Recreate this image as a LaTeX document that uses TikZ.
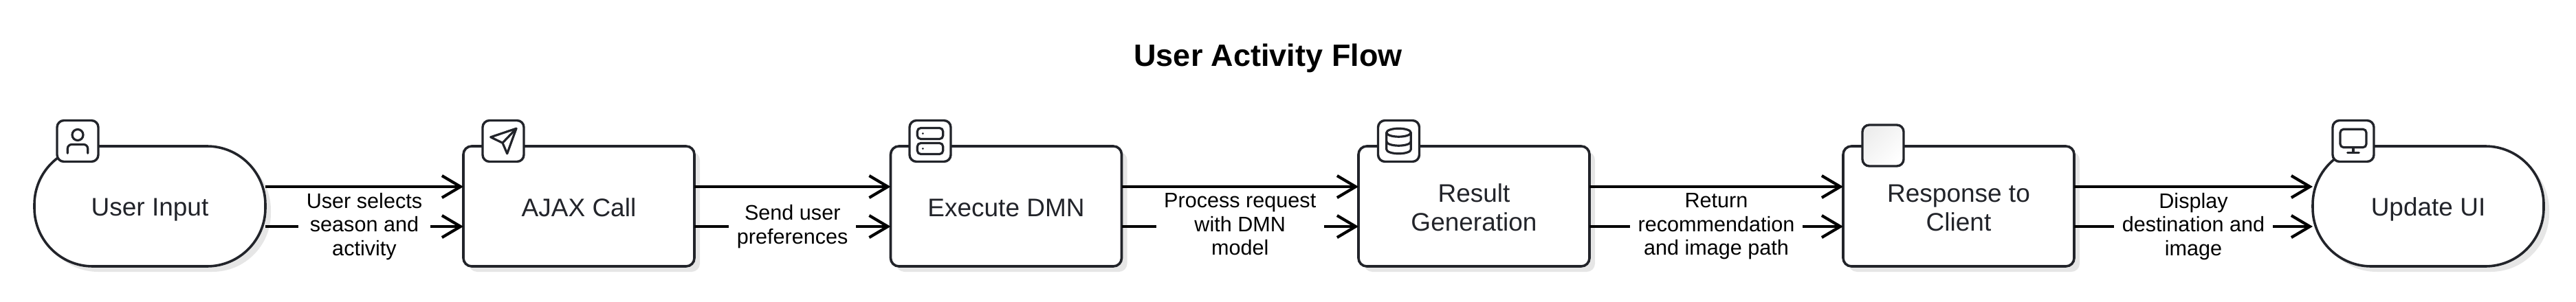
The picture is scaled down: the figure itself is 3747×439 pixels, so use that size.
\documentclass[tikz,border=0pt]{standalone}
\usepackage{fontspec}
\setmainfont{Liberation Sans}
\usetikzlibrary{arrows.meta,shadows}
\definecolor{inkcol}{HTML}{22242A}
\definecolor{shadowcol}{HTML}{E6E6E6}
\definecolor{iconshade}{HTML}{EDEDED}
\newcommand{\taskstrut}{\rule[-6pt]{0pt}{41pt}}
\newcommand{\labelstrut}{\rule[-6.5pt]{0pt}{28.5pt}}
\tikzset{
    task/.style={draw=inkcol,fill=white,line width=3.6pt,rounded corners=12pt,minimum width=336pt,minimum height=175pt,outer sep=0pt,align=center,text=inkcol,execute at end node=\taskstrut,font=\fontsize{37}{42}\selectfont,drop shadow={shadow xshift=8pt,shadow yshift=-8pt,fill=shadowcol,opacity=1}},
    terminal/.style={task,rounded corners=85pt},
    iconbox/.style={draw=inkcol,fill=white,line width=3.4pt,rounded corners=10pt,minimum width=60pt,minimum height=60pt,outer sep=0pt},
    glyph/.style={draw=inkcol,line width=3.2pt,line cap=round,line join=round},
    flow/.style={draw=black,line width=4.2pt,-{Straight Barb[length=27pt,width=32pt,line width=4.2pt]}},
    flowlabel/.style={fill=white,inner xsep=11.5pt,inner ysep=0pt,align=center,text=black,execute at end node=\labelstrut,font=\fontsize{30.6}{34.5}\selectfont}
}
\begin{document}
\begin{tikzpicture}[x=1pt,y=-1pt]
    \useasboundingbox (0,0) rectangle (3747,439);
    \node [anchor=base,font=\fontsize{45}{50}\selectfont\bfseries] (title) at (1844.5,96) {User Activity Flow};
    \node [terminal] (input) at (218,300.5) {User Input};
    \node [task] (ajax) at (842,300.5) {AJAX Call};
    \node [task] (dmn) at (1463.5,300.5) {Execute DMN};
    \node [task] (result) at (2144,300.5) {\taskstrut Result\\Generation};
    \node [task] (response) at (2849,300.5) {\taskstrut Response to\\Client};
    \node [terminal] (update) at (3532,300.5) {Update UI};
    \draw [flow] ([yshift=28.5pt]input.east) -- ([yshift=28.5pt]ajax.west);
    \draw [flow] ([yshift=-29.5pt]input.east) -- node [flowlabel] {User selects\\season and\\activity} ([yshift=-29.5pt]ajax.west);
    \draw [flow] ([yshift=28.5pt]ajax.east) -- ([yshift=28.5pt]dmn.west);
    \draw [flow] ([yshift=-29.5pt]ajax.east) -- node [flowlabel] {Send user\\preferences} ([yshift=-29.5pt]dmn.west);
    \draw [flow] ([yshift=28.5pt]dmn.east) -- ([yshift=28.5pt]result.west);
    \draw [flow] ([yshift=-29.5pt]dmn.east) -- node [flowlabel] {Process request\\with DMN\\model} ([yshift=-29.5pt]result.west);
    \draw [flow] ([yshift=28.5pt]result.east) -- ([yshift=28.5pt]response.west);
    \draw [flow] ([yshift=-29.5pt]result.east) -- node [flowlabel] {Return\\recommendation\\and image path} ([yshift=-29.5pt]response.west);
    \draw [flow] ([yshift=28.5pt]response.east) -- ([yshift=28.5pt]update.west);
    \draw [flow] ([yshift=-29.5pt]response.east) -- node [flowlabel] {Display\\destination and\\image} ([yshift=-29.5pt]update.west);
    \node [iconbox] (iconinput) at (113,205.5) {};
    \node [iconbox] (iconajax) at (732,205.5) {};
    \node [iconbox] (icondmn) at (1353,205.5) {};
    \node [iconbox] (iconresult) at (2034.5,205.5) {};
    \node [iconbox,left color=iconshade,right color=white,shading angle=45] (iconresponse) at (2739,212) {};
    \node [iconbox] (iconupdate) at (3423,205.5) {};
    \begin{scope}[shift={(iconinput.center)}]
        \draw [glyph] (0,-9) circle (8);
        \draw [glyph,rounded corners=6pt] (-14.7,17.7) -- (-14.7,5) -- (14.7,5) -- (14.7,17.7);
    \end{scope}
    \begin{scope}[shift={(iconajax.center)}]
        \draw [glyph] (19,-18.3) -- (-18.3,-5.7) -- (-1,2.7) -- (5.7,18.3) -- cycle;
        \draw [glyph] (19,-18.3) -- (-1,2.7);
    \end{scope}
    \begin{scope}[shift={(icondmn.center)}]
        \draw [glyph,rounded corners=5pt] (-18.7,-19) rectangle (18.7,-3);
        \draw [glyph,rounded corners=5pt] (-18.7,3) rectangle (18.7,19);
        \fill [inkcol] (-10.7,-11) circle (1.5);
        \fill [inkcol] (-10.7,11) circle (1.5);
    \end{scope}
    \begin{scope}[shift={(iconresult.center)}]
        \draw [glyph] (0,-12.3) ellipse (17.7 and 6);
        \draw [glyph] (-17.7,-12.3) -- (-17.7,12.3) arc (180:0:17.7 and 6) -- (17.7,-12.3);
        \draw [glyph] (-17.7,0.7) arc (180:0:17.7 and 6);
    \end{scope}
    \begin{scope}[shift={(iconupdate.center)}]
        \draw [glyph,rounded corners=5pt] (-19,-17.3) rectangle (19,9.3);
        \draw [glyph] (0,9.3) -- (0,16.7);
        \draw [glyph] (-8.3,16.7) -- (8.3,16.7);
    \end{scope}
\end{tikzpicture}
\end{document}
